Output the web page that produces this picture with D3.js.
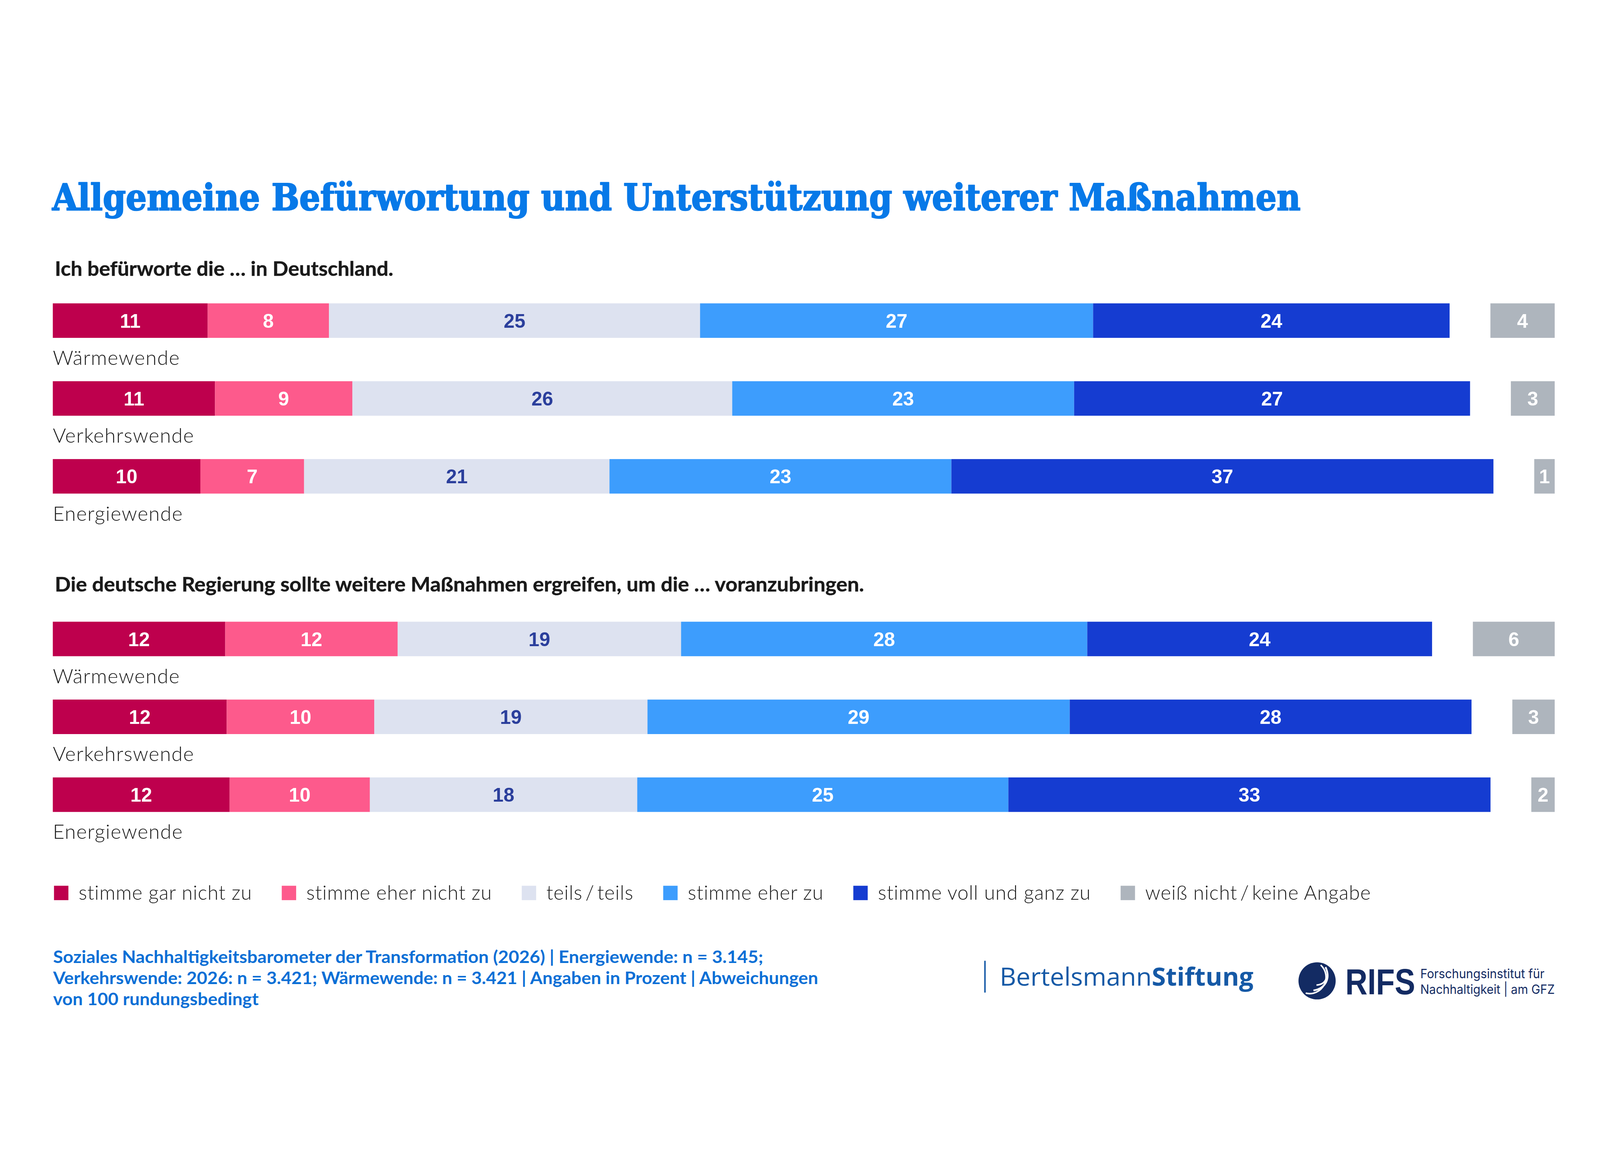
<!DOCTYPE html>
<html><head><meta charset="utf-8">
<script src="https://cdn.jsdelivr.net/npm/d3@7"></script>
<style>html,body{margin:0;padding:0;background:#fff;width:100%;height:100%;overflow:hidden}svg{display:block;width:100vw;height:100vh}</style>
</head><body>
<svg id="chart" viewBox="0 0 5333 3000" preserveAspectRatio="xMidYMid meet"></svg>
<script>
// ---------- DATA ----------
const titleText = "Allgemeine Befürwortung und Unterstützung weiterer Maßnahmen";
const questions = [
  "Ich befürworte die … in Deutschland.",
  "Die deutsche Regierung sollte weitere Maßnahmen ergreifen, um die … voranzubringen."
];
const categories = ["Wärmewende", "Verkehrswende", "Energiewende"];
const responses = ["stimme gar nicht zu", "stimme eher nicht zu", "teils\u2009/\u2009teils",
                   "stimme eher zu", "stimme voll und ganz zu", "weiß nicht\u2009/\u2009keine Angabe"];
const colors = ["#BE004D", "#FD5A8C", "#DDE2F0", "#3D9DFD", "#153CD1", "#AEB5BD"];

// percentages in the order of `responses` (last = weiß nicht / keine Angabe)
const befuerwortung_Waerme   = [10.6, 8.3, 25.4, 26.9, 24.4, 4.4];
const befuerwortung_Verkehr  = [11.1, 9.4, 26.0, 23.4, 27.1, 3.0];
const befuerwortung_Energie  = [10.1, 7.1, 20.9, 23.4, 37.1, 1.4];
const massnahmen_Waerme      = [11.8, 11.8, 19.4, 27.8, 23.6, 5.6];
const massnahmen_Verkehr     = [11.9, 10.1, 18.7, 28.9, 27.5, 2.9];
const massnahmen_Energie     = [12.1, 9.6, 18.3, 25.4, 33.0, 1.6];

const groups = [
  [befuerwortung_Waerme, befuerwortung_Verkehr, befuerwortung_Energie],
  [massnahmen_Waerme, massnahmen_Verkehr, massnahmen_Energie]
];

const footerLines = [
  "Soziales Nachhaltigkeitsbarometer der Transformation (2026) | Energiewende: n = 3.145;",
  "Verkehrswende: 2026: n = 3.421; Wärmewende: n = 3.421 | Angaben in Prozent | Abweichungen",
  "von 100 rundungsbedingt"
];

// ---------- LAYOUT ----------
const svg = d3.select("#chart");
const left = 176, right = 5182;
const x = d3.scaleLinear().domain([0, 100]).range([left, left + 4870]);
const wd = v => x(v) - x(0);
const groupTop = [558, 1619];
const rowStep = 259.5, barH = 115;
const fmt = d3.format(".0f");

function fitWidth(sel, target) {
  const n = sel.node().getComputedTextLength();
  if (n > 0) sel.attr("textLength", target).attr("lengthAdjust", "spacingAndGlyphs");
}

// Title
svg.append("text").attr("x", 174).attr("y", 247)
  .attr("font-family", "'DejaVu Serif Condensed','DejaVu Serif',serif")
  .attr("font-stretch", "condensed")
  .attr("font-weight", 700).attr("font-size", 122).attr("fill", "#0779E8")
  .attr("stroke", "#0779E8").attr("stroke-width", 3.5).attr("stroke-linejoin", "round")
  .text(titleText).call(fitWidth, 4161);

// Subtitles
const subY = [466, 1518];
const subW = [1128, 2697];
questions.forEach((q, i) => {
  svg.append("text").attr("x", 183).attr("y", subY[i])
    .attr("font-family", "Lato, 'Noto Sans', sans-serif").attr("font-weight", 700)
    .attr("font-size", 67).attr("fill", "#1a1a1a")
    .attr("stroke", "#1a1a1a").attr("stroke-width", 0.8)
    .text(q).call(fitWidth, subW[i]);
});

// Bars
groups.forEach((rows, g) => {
  rows.forEach((vals, r) => {
    const top = groupTop[g] + r * rowStep;
    const main = vals.slice(0, 5);
    const cum = d3.cumsum([0, ...main]);
    const row = svg.append("g");
    row.selectAll("rect.seg").data(main).join("rect")
      .attr("class", "seg")
      .attr("x", (d, i) => x(cum[i])).attr("y", top)
      .attr("width", d => wd(d)).attr("height", barH)
      .attr("fill", (d, i) => colors[i]);
    row.selectAll("text.val").data(main).join("text")
      .attr("class", "val")
      .attr("x", (d, i) => x(cum[i]) + wd(d) / 2).attr("y", top + barH / 2)
      .attr("dy", "0.36em").attr("text-anchor", "middle")
      .attr("font-family", "'Liberation Sans', Arial, sans-serif").attr("font-weight", 700)
      .attr("font-size", 65)
      .attr("fill", (d, i) => i === 2 ? "#2B3F9C" : "#ffffff")
      .text(d => fmt(d));
    // weiß nicht / keine Angabe – right aligned
    const dk = vals[5];
    row.append("rect").attr("x", right - wd(dk)).attr("y", top)
      .attr("width", wd(dk)).attr("height", barH).attr("fill", colors[5]);
    row.append("text").attr("x", right - wd(dk) / 2).attr("y", top + barH / 2)
      .attr("dy", "0.36em").attr("text-anchor", "middle")
      .attr("font-family", "'Liberation Sans', Arial, sans-serif").attr("font-weight", 700)
      .attr("font-size", 65).attr("fill", "#ffffff").text(fmt(dk));
    // category label
    svg.append("text").attr("x", left).attr("y", top + barH + 90)
      .attr("font-family", "Lato, 'Noto Sans', sans-serif").attr("font-weight", 300)
      .attr("font-size", 67).attr("letter-spacing", 2).attr("fill", "#1a1a1a")
      .text(categories[r]);
  });
});

// Legend
let lx = 180;
const legY = 2499, sq = 48;
responses.forEach((lab, i) => {
  svg.append("rect").attr("x", lx).attr("y", legY).attr("width", sq).attr("height", sq)
    .attr("fill", colors[i]);
  const t = svg.append("text").attr("x", lx + sq + 34).attr("y", legY + 46)
    .attr("font-family", "Lato, 'Noto Sans', sans-serif").attr("font-weight", 300)
    .attr("font-size", 66).attr("letter-spacing", 1.3).attr("fill", "#1a1a1a").text(lab);
  lx = lx + sq + 34 + t.node().getComputedTextLength() + 99;
});

// Footer
const footW = [2367, 2550, 685];
footerLines.forEach((l, i) => {
  svg.append("text").attr("x", 177).attr("y", 2757 + i * 70)
    .attr("font-family", "Lato, 'Noto Sans', sans-serif").attr("font-weight", 700)
    .attr("font-size", 57).attr("fill", "#0A6FD6")
    .text(l).call(fitWidth, footW[i]);
});

// Bertelsmann Stiftung logo (text)
svg.append("line").attr("x1", 3283).attr("x2", 3283).attr("y1", 2749).attr("y2", 2855)
  .attr("stroke", "#1559A6").attr("stroke-width", 5);
const bt = svg.append("text").attr("x", 3332).attr("y", 2832)
  .attr("font-family", "'Open Sans', 'Noto Sans', sans-serif").attr("font-size", 84)
  .attr("fill", "#1559A6");
bt.append("tspan").attr("font-weight", 400).text("Bertelsmann");
bt.append("tspan").attr("font-weight", 700).text("Stiftung");
bt.call(fitWidth, 846);

// RIFS logo
const cx = 4390, cy = 2816;
const logo = svg.append("g").attr("transform", `translate(${cx},${cy})`);
logo.append("circle").attr("r", 62).attr("fill", "#132B63");
logo.append("path").attr("d", "M12,-53 A55,55 0 0 1 -38,41")
  .attr("fill", "none").attr("stroke", "#fff").attr("stroke-width", 5);
logo.append("path").attr("d", "M28,-46 C45,-10 30,25 -12,32")
  .attr("fill", "none").attr("stroke", "#fff").attr("stroke-width", 6);
logo.append("path").attr("d", "M32,-13 C28,5 15,13 -2,14")
  .attr("fill", "none").attr("stroke", "#fff").attr("stroke-width", 5);
svg.append("text").attr("x", 4484).attr("y", 2860)
  .attr("font-family", "'Liberation Sans', Arial, sans-serif").attr("font-weight", 700)
  .attr("font-size", 120).attr("fill", "#132B63").text("RIFS").call(fitWidth, 233);
const rifsSmall = ["Forschungsinstitut für", "Nachhaltigkeit | am GFZ"];
const rifsW = [414, 448];
rifsSmall.forEach((s, i) => {
  svg.append("text").attr("x", 4734).attr("y", 2807 + i * 52)
    .attr("font-family", "Inter, 'Noto Sans', sans-serif").attr("font-weight", 400)
    .attr("font-size", 43).attr("fill", "#132B63").text(s).call(fitWidth, rifsW[i]);
});
</script>
</body></html>
